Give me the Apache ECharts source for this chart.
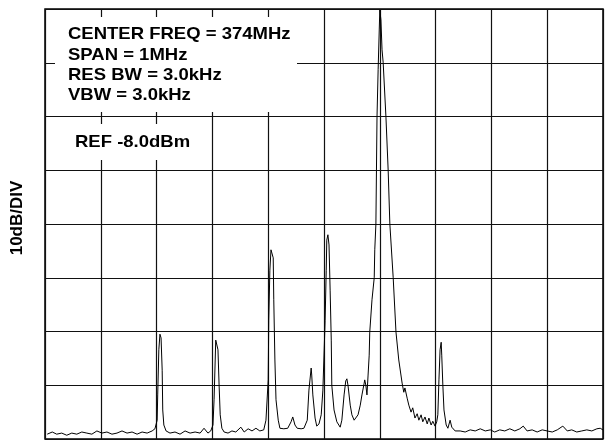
<!DOCTYPE html>
<html>
<head>
<meta charset="utf-8">
<title>Spectrum 374 MHz</title>
<script src="https://cdn.jsdelivr.net/npm/echarts@6/dist/echarts.min.js"></script>
<style>
  html, body { margin: 0; padding: 0; background: #fff; }
  #chart { width: 606px; height: 442px; }
</style>
</head>
<body>
<div id="chart"></div>
<script>
// Analyzer settings
const refLevelDbm = -8.0;       // top graticule line
const dbPerDiv = 10;
const spanKHz = 1000;           // 1 MHz span around the centre frequency

const infoLines = [
  'CENTER FREQ = 374MHz',
  'SPAN = 1MHz',
  'RES BW = 3.0kHz',
  'VBW = 3.0kHz'
];
const refLabel = 'REF -8.0dBm';
const scaleLabel = '10dB/DIV';

// Trace: frequency offset from centre (kHz) and level (dBm)
const freqOffsetKHz = [
  -496, -487, -479, -470, -461, -452, -443, -434, -425, -416, -407, -398, -389, -380, -371, -362,
  -353, -344, -335, -326, -317, -308, -303, -299, -298, -296, -294, -292, -290, -289, -287, -283,
  -276, -267, -258, -249, -240, -231, -222, -215, -208, -203, -199, -197, -195, -194, -192, -190,
  -188, -186, -183, -179, -172, -165, -158, -149, -143, -136, -129, -122, -115, -108, -104, -100,
  -99, -97, -95, -93, -91, -90, -88, -86, -82, -79, -72, -65, -59, -56, -52, -48,
  -41, -36, -30, -27, -23, -22, -20, -16, -13, -9, -5, -2, 2, 4, 5, 7,
  9, 11, 13, 14, 18, 23, 29, 32, 36, 39, 41, 43, 47, 50, 54, 57,
  61, 65, 68, 72, 73, 75, 77, 79, 81, 82, 86, 90, 91, 93, 95, 97,
  99, 100, 102, 104, 106, 109, 111, 115, 118, 124, 129, 134, 140, 143, 145, 149,
  152, 156, 159, 163, 167, 170, 174, 177, 181, 185, 188, 192, 195, 199, 202, 204,
  206, 208, 210, 211, 213, 215, 219, 222, 226, 229, 235, 244, 253, 262, 271, 280,
  283, 289, 298, 306, 315, 324, 333, 342, 351, 357, 364, 373, 382, 391, 400, 409,
  418, 428, 436, 444, 453, 462, 471, 480, 489, 495, 500
];
const levelDbm = [
  -87.1, -86.7, -87.1, -86.9, -87.3, -86.9, -87.1, -86.7, -86.9, -87.1, -86.5, -86.9, -86.7, -87.1, -86.9, -86.5,
  -86.9, -86.7, -87.1, -86.7, -86.9, -86.5, -86.1, -84.5, -79.8, -71.4, -68.5, -69.2, -75.2, -82.6, -85.4, -86.5,
  -86.9, -86.7, -87.1, -86.5, -86.9, -86.7, -86.9, -86.0, -86.9, -86.5, -85.4, -80.7, -73.3, -69.6, -69.4, -71.4,
  -78.0, -83.5, -86.0, -86.7, -86.9, -86.5, -86.7, -85.8, -86.7, -86.1, -86.5, -86.0, -86.5, -86.3, -84.5, -77.0,
  -65.9, -56.6, -52.8, -52.5, -54.3, -62.1, -73.3, -80.7, -84.5, -86.0, -86.1, -86.0, -84.8, -83.9, -85.4, -86.0,
  -86.1, -86.0, -84.5, -78.9, -74.8, -76.1, -79.8, -84.1, -85.6, -85.2, -83.5, -78.9, -65.9, -56.6, -51.0, -50.0,
  -51.9, -60.3, -69.6, -78.0, -82.6, -84.8, -85.8, -84.5, -79.8, -77.2, -76.8, -78.0, -81.7, -83.5, -84.5, -84.8,
  -83.5, -81.7, -79.8, -77.6, -77.0, -78.0, -79.8, -76.1, -72.4, -68.1, -62.1, -58.0, -52.8, -48.0, -28.1, -19.3,
  -11.9, -8.2, -10.0, -15.6, -17.9, -24.0, -28.1, -38.0, -48.0, -58.0, -68.1, -73.3, -77.6, -79.3, -78.5, -80.4,
  -81.7, -83.0, -82.2, -84.1, -83.3, -84.5, -83.5, -84.8, -83.9, -85.2, -84.1, -85.4, -84.7, -85.6, -84.8, -83.5,
  -77.0, -71.4, -70.0, -72.4, -78.0, -82.6, -85.4, -86.0, -84.5, -85.8, -86.5, -86.5, -86.7, -86.3, -86.5, -86.1,
  -85.8, -86.5, -86.3, -86.7, -86.3, -86.5, -86.1, -86.5, -86.1, -85.6, -86.5, -86.3, -86.7, -86.3, -86.5, -86.7,
  -86.3, -85.6, -86.5, -86.3, -86.7, -86.5, -86.3, -86.5, -86.1, -86.0, -86.3
];

// Vertical scale is plotted relative to the reference level (0 = top line)
const traceData = freqOffsetKHz.map((f, i) => [f, levelDbm[i] - refLevelDbm]);

const FONT = '"Liberation Sans", Arial, Helvetica, sans-serif';
const chart = echarts.init(document.getElementById('chart'), null, { renderer: 'canvas' });

const gridLine = { show: true, lineStyle: { color: '#111', width: 1.2, type: 'solid' } };

const infoText = infoLines.map((t, i) => ({
  type: 'text',
  x: 68,
  y: [34, 55, 75.5, 95.5][i],
  scaleY: 0.9,
  z: 110,
  style: {
    text: t, x: 0, y: 0,
    fill: '#000',
    font: 'bold 18.5px ' + FONT,
    align: 'left', verticalAlign: 'middle'
  }
}));

chart.setOption({
  animation: false,
  backgroundColor: '#fff',
  grid: {
    left: 45, top: 9, right: 3, bottom: 3,
    show: true, borderColor: '#000', borderWidth: 1.5, backgroundColor: '#fff'
  },
  xAxis: {
    type: 'value',
    min: -spanKHz / 2, max: spanKHz / 2, interval: spanKHz / 10,
    axisLine: { show: false }, axisTick: { show: false }, axisLabel: { show: false },
    splitLine: gridLine
  },
  yAxis: {
    type: 'value',
    min: -8 * dbPerDiv, max: 0, interval: dbPerDiv,
    axisLine: { show: false }, axisTick: { show: false }, axisLabel: { show: false },
    splitLine: gridLine
  },
  series: [{
    type: 'line',
    data: traceData,
    showSymbol: false,
    smooth: false,
    lineStyle: { color: '#000', width: 1 },
    z: 5
  }],
  graphic: [
    // settings panel (blanks the graticule except short stubs at its edges)
    { type: 'rect', z: 100, shape: { x: 55, y: 17, width: 242, height: 95 }, style: { fill: '#fff' } },
    // reference level panel
    { type: 'rect', z: 100, shape: { x: 50, y: 124, width: 155, height: 36 }, style: { fill: '#fff' } },
    ...infoText,
    {
      type: 'text', x: 75, y: 142, scaleY: 0.9, z: 110,
      style: { text: refLabel, x: 0, y: 0, fill: '#000', font: 'bold 18.5px ' + FONT, align: 'left', verticalAlign: 'middle' }
    },
    {
      type: 'text', x: 17, y: 218, rotation: Math.PI / 2, z: 110,
      style: { text: scaleLabel, x: 0, y: 0, fill: '#000', font: 'bold 17px ' + FONT, align: 'center', verticalAlign: 'middle' }
    }
  ]
});
</script>
</body>
</html>
